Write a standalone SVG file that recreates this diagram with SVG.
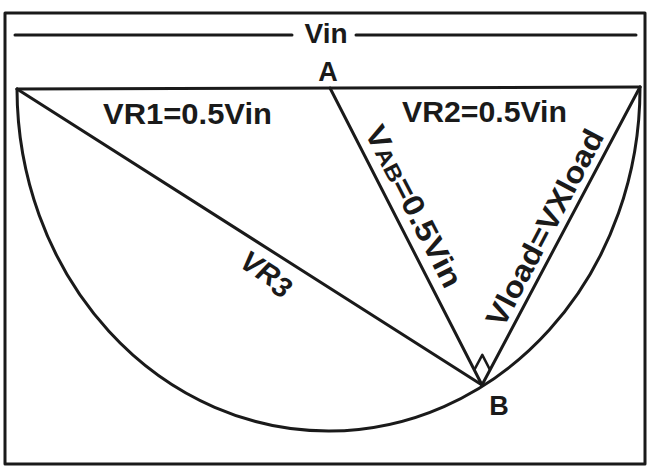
<svg xmlns="http://www.w3.org/2000/svg" width="648" height="472" viewBox="0 0 648 472">
  <style>
    .ln { fill: none; stroke: #1a1a1a; stroke-width: 3; stroke-linecap: round; stroke-linejoin: round; }
    .thin { fill: none; stroke: #1a1a1a; stroke-width: 2.5; stroke-linejoin: round; }
    .t { font-family: "Liberation Sans", Arial, sans-serif; font-weight: bold; fill: #1a1a1a; }
  </style>
  <rect x="0" y="0" width="648" height="472" fill="#ffffff"/>
  <g id="frame">
    <rect x="5" y="13" width="640" height="451" class="ln"/>
  </g>
  <g id="vin-dimension">
    <line x1="15" y1="35" x2="292" y2="35" class="ln"/>
    <line x1="356" y1="35" x2="636" y2="35" class="ln"/>
    <text x="326" y="43" class="t" font-size="28" text-anchor="middle">Vin</text>
  </g>
  <g id="connectors">
    <line x1="17" y1="89" x2="640" y2="87" class="ln"/>
    <path d="M17,89 A311.5,343 0 0 0 640,87" class="ln"/>
    <line x1="17" y1="89" x2="482" y2="385" class="ln"/>
    <line x1="330" y1="88" x2="482" y2="385" class="ln"/>
    <line x1="640" y1="87" x2="482" y2="385" class="ln"/>
    <polyline points="474.3,369.9 482.3,354.9 490.0,369.9" class="thin"/>
  </g>
  <g id="node-A">
    <text x="328" y="81" class="t" font-size="27" text-anchor="middle">A</text>
  </g>
  <g id="node-B">
    <text x="499" y="415" class="t" font-size="27" text-anchor="middle">B</text>
  </g>
  <g id="labels">
    <text x="103" y="124" class="t" font-size="29" textLength="169" lengthAdjust="spacingAndGlyphs">VR1=0.5Vin</text>
    <text x="402" y="122" class="t" font-size="29" textLength="165" lengthAdjust="spacingAndGlyphs">VR2=0.5Vin</text>
    <text class="t" font-size="29" font-style="italic" transform="translate(238,266) rotate(32.5)">VR<tspan dy="4">3</tspan></text>
    <text class="t" font-size="30" transform="translate(364,132) rotate(62.8)" textLength="178" lengthAdjust="spacingAndGlyphs">V<tspan font-size="22">AB</tspan>=0.5Vin</text>
    <text class="t" font-size="30" transform="translate(503,329) rotate(-62.2)" textLength="218" lengthAdjust="spacingAndGlyphs">Vload=VXload</text>
  </g>
</svg>
